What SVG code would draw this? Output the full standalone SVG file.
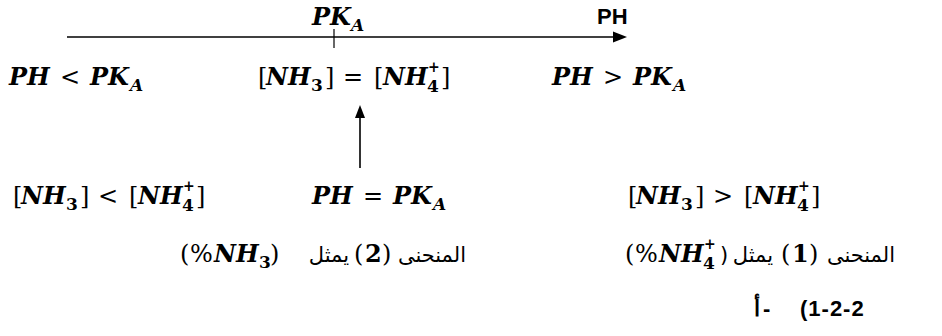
<svg xmlns="http://www.w3.org/2000/svg" width="942" height="336" viewBox="0 0 942 336">
<style>
.m{font-family:"DejaVu Serif",serif;font-size:24px;fill:#000}
.bi{font-weight:bold;font-style:italic}
.sb{font-size:17px;font-weight:bold}
.sp{font-size:14px;font-weight:bold}
.ar{font-family:"DejaVu Sans",sans-serif;font-size:21px;fill:#000}
.ph{font-family:"Liberation Sans",Arial,sans-serif;font-size:22px;font-weight:bold;fill:#000}
.ln{stroke:#000;stroke-width:1.6;fill:none}
</style>
<rect width="942" height="336" fill="#fff"/>
<g id="connectors">
  <line class="ln" x1="67" y1="37" x2="615" y2="37"/>
  <polygon points="627,37 613,31.5 613,42.5" fill="#000"/>
  <line x1="334" y1="29" x2="334" y2="48" stroke="#000" stroke-width="1.2"/>
  <line class="ln" x1="360" y1="168" x2="360" y2="116"/>
  <polygon points="360,105 355,118 365,118" fill="#000"/>
</g>
<g id="label-pka">
  <text class="m"><tspan class="bi" x="312" y="25">PK</tspan><tspan class="bi sb" x="351" y="31">A</tspan></text>
</g>
<g id="label-ph">
  <text class="ph" x="597" y="24">PH</text>
</g>
<g id="node-ph-lt-pka">
  <text class="m"><tspan class="bi" x="9" y="85">PH</tspan><tspan x="60" y="85">&lt;</tspan><tspan class="bi" x="90" y="85">PK</tspan><tspan class="bi sb" x="130" y="91">A</tspan></text>
</g>
<g id="node-eq-conc">
  <text class="m"><tspan x="258" y="85">[</tspan><tspan class="bi" x="266" y="85">NH</tspan><tspan class="sb" x="311" y="91">3</tspan><tspan x="325" y="85">]</tspan><tspan x="343" y="85">=</tspan><tspan x="374" y="85">[</tspan><tspan class="bi" x="383" y="85">NH</tspan><tspan class="sp" x="428" y="72">+</tspan><tspan class="sb" x="427" y="92">4</tspan><tspan x="441" y="85">]</tspan></text>
</g>
<g id="node-ph-gt-pka">
  <text class="m"><tspan class="bi" x="552" y="85">PH</tspan><tspan x="603" y="85">&gt;</tspan><tspan class="bi" x="633" y="85">PK</tspan><tspan class="bi sb" x="673" y="91">A</tspan></text>
</g>
<g id="node-lt-conc">
  <text class="m"><tspan x="13" y="204">[</tspan><tspan class="bi" x="21" y="204">NH</tspan><tspan class="sb" x="66" y="210">3</tspan><tspan x="80" y="204">]</tspan><tspan x="98" y="204">&lt;</tspan><tspan x="129" y="204">[</tspan><tspan class="bi" x="138" y="204">NH</tspan><tspan class="sp" x="183" y="191">+</tspan><tspan class="sb" x="182" y="211">4</tspan><tspan x="196" y="204">]</tspan></text>
</g>
<g id="node-ph-eq-pka">
  <text class="m"><tspan class="bi" x="312" y="204">PH</tspan><tspan x="363" y="204">=</tspan><tspan class="bi" x="393" y="204">PK</tspan><tspan class="bi sb" x="433" y="210">A</tspan></text>
</g>
<g id="node-gt-conc">
  <text class="m"><tspan x="628" y="204">[</tspan><tspan class="bi" x="636" y="204">NH</tspan><tspan class="sb" x="681" y="210">3</tspan><tspan x="695" y="204">]</tspan><tspan x="713" y="204">&gt;</tspan><tspan x="744" y="204">[</tspan><tspan class="bi" x="753" y="204">NH</tspan><tspan class="sp" x="798" y="191">+</tspan><tspan class="sb" x="797" y="211">4</tspan><tspan x="811" y="204">]</tspan></text>
</g>
<g id="node-curve2">
  <text class="m"><tspan x="180" y="262">(</tspan><tspan x="190" y="262">%</tspan><tspan class="bi" x="214" y="262">NH</tspan><tspan class="sb" x="259" y="268">3</tspan><tspan x="270" y="262">)</tspan></text>
  <text class="ar" x="349" y="262" text-anchor="end">يمثل</text>
  <text class="m"><tspan x="354" y="262">(</tspan><tspan font-weight="bold" x="365" y="262">2</tspan><tspan x="382" y="262">)</tspan></text>
  <text class="ar" x="466" y="262" text-anchor="end">المنحنى</text>
</g>
<g id="node-curve1">
  <text class="m"><tspan x="625" y="262">(</tspan><tspan x="635" y="262">%</tspan><tspan class="bi" x="659" y="262">NH</tspan><tspan class="sp" x="704" y="249">+</tspan><tspan class="sb" x="703" y="269">4</tspan></text>
  <text class="ar" x="720" y="262">)</text>
  <text class="ar" x="773" y="262" text-anchor="end">يمثل</text>
  <text class="m"><tspan x="781" y="262">(</tspan><tspan font-weight="bold" x="792" y="262">1</tspan><tspan x="809" y="262">)</tspan></text>
  <text class="ar" x="895" y="262" text-anchor="end">المنحنى</text>
</g>
<g id="node-section">
  <text class="ph" font-size="24" x="800" y="316" letter-spacing="1">(1-2-2</text>
  <text class="ph" font-family="DejaVu Sans" font-size="24" x="754" y="316">أ</text>
  <text class="ph" font-size="24" x="763" y="316">-</text>
</g>
</svg>
